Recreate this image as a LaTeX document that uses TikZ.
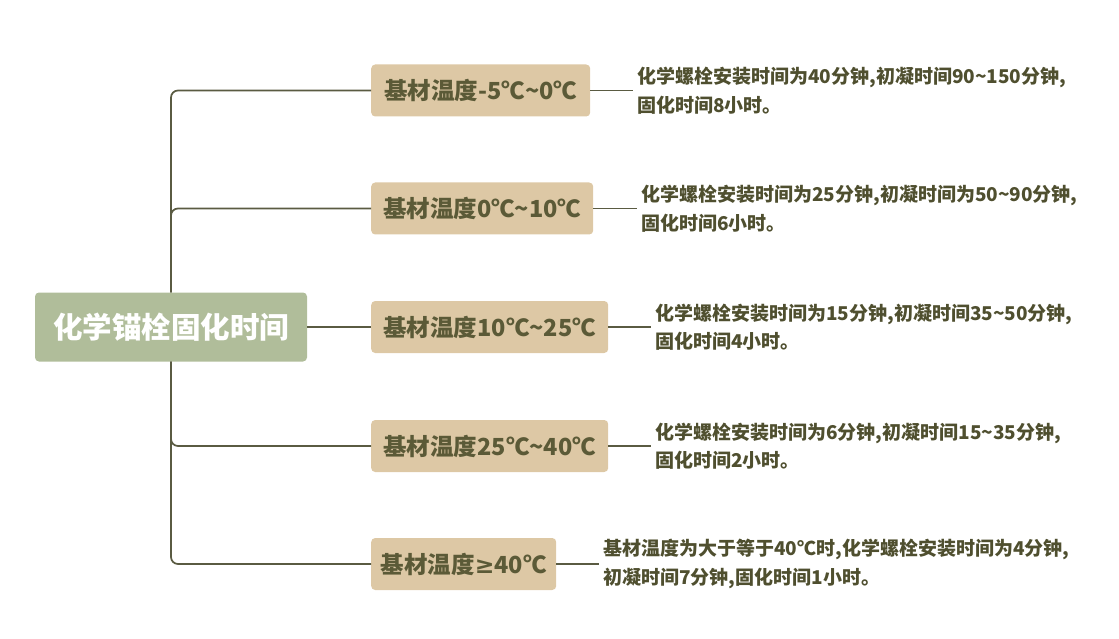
\documentclass[tikz,border=0pt]{standalone}
\usepackage{fontspec}
\setmainfont{Noto Sans CJK SC}
\newfontfamily\symfont{DejaVu Sans}
\definecolor{rootfill}{HTML}{B0BD9A}
\definecolor{tempfill}{HTML}{DDC8A5}
\definecolor{temptext}{HTML}{5B5A37}
\definecolor{notetext}{HTML}{4F4F2F}
\definecolor{linkcolor}{HTML}{5A5B42}

\begin{document}
\begin{tikzpicture}[x=1pt, y=-1pt,
    rootbox/.style={fill=rootfill, rounded corners=4pt, text=white,
      font=\bfseries\fontsize{29.5}{34}\selectfont,
      minimum width=272pt, minimum height=69pt, inner sep=0pt},
    tempbox/.style={fill=tempfill, rounded corners=4pt, text=temptext,
      font=\bfseries\fontsize{23.5}{28}\selectfont,
      minimum height=52pt, inner sep=0pt, anchor=west},
    note/.style={anchor=west, align=left, text=notetext, inner sep=4pt,
      font=\bfseries\fontsize{19}{28.5}\selectfont},
    link/.style={draw=linkcolor, line width=1.7pt}]
  \useasboundingbox (0, 0) rectangle (1119, 639);

  % centre
  \node[rootbox] (root) at (171, 327) {化学锚栓固化时间};

  % temperature ranges
  \node[tempbox, minimum width=219pt] (t1) at (371, 90.5) {基材温度-5℃\textasciitilde0℃};
  \node[tempbox, minimum width=222pt] (t2) at (371, 208.5) {基材温度0℃\textasciitilde10℃};
  \node[tempbox, minimum width=237pt] (t3) at (371, 327) {基材温度10℃\textasciitilde25℃};
  \node[tempbox, minimum width=237pt] (t4) at (371, 446) {基材温度25℃\textasciitilde40℃};
  \node[tempbox, minimum width=185pt] (t5) at (371, 564) {基材温度{\symfont ≥}40℃};

  % times
  \node[note] (n1) at (633, 90.5) {化学螺栓安装时间为40分钟,初凝时间90\textasciitilde150分钟,\\固化时间8小时。};
  \node[note] (n2) at (637, 208.5) {化学螺栓安装时间为25分钟,初凝时间为50\textasciitilde90分钟,\\固化时间6小时。};
  \node[note] (n3) at (651, 327) {化学螺栓安装时间为15分钟,初凝时间35\textasciitilde50分钟,\\固化时间4小时。};
  \node[note] (n4) at (651, 446) {化学螺栓安装时间为6分钟,初凝时间15\textasciitilde35分钟,\\固化时间2小时。};
  \node[note] (n5) at (599, 564) {基材温度为大于等于40℃时,化学螺栓安装时间为4分钟,\\初凝时间7分钟,固化时间1小时。};

  % branches
  \draw[link, rounded corners=7pt] (root.north) |- (t1.west);
  \draw[link, rounded corners=7pt] (root.north) |- (t2.west);
  \draw[link] (root.east) -- (t3.west);
  \draw[link, rounded corners=7pt] (root.south) |- (t4.west);
  \draw[link, rounded corners=7pt] (root.south) |- (t5.west);
  \foreach \i in {1,...,5}
    \draw[link] (t\i.east) -- (n\i.west);
\end{tikzpicture}
\end{document}
